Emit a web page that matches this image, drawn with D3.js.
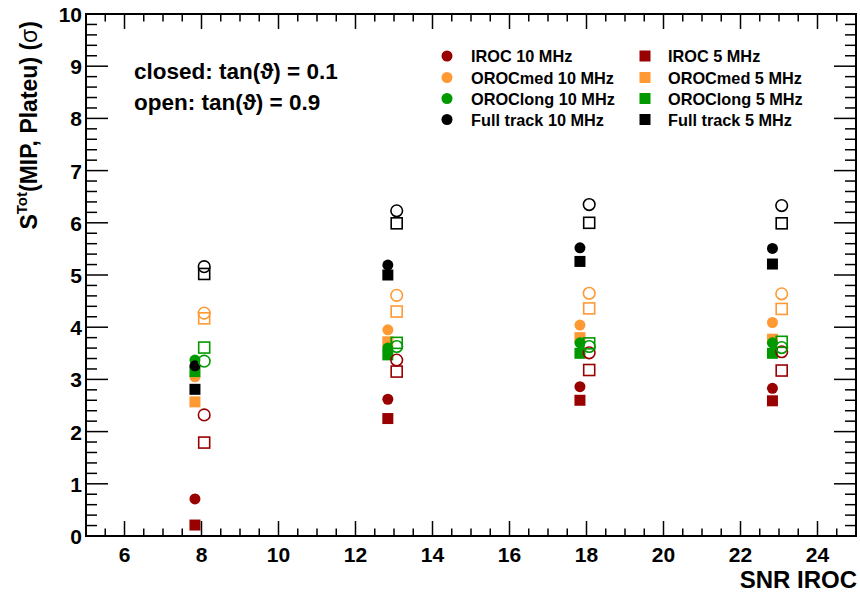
<!DOCTYPE html>
<html><head><meta charset="utf-8">
<script src="https://cdn.jsdelivr.net/npm/d3@7"></script>
<style>
body{margin:0;background:#fff;}
text{font-family:"Liberation Sans",Arial,Helvetica,sans-serif;font-weight:bold;}
</style></head>
<body><svg id="c" width="860" height="597"></svg>
<script>
// ---- data ----
const snrClosed = [7.83, 12.84, 17.83, 22.83];
const snrOpen   = [8.07, 13.07, 18.07, 23.07];

// closed: tan(theta)=0.1
const iroc10C     = [0.71, 2.62, 2.86, 2.83];
const iroc5C      = [0.21, 2.25, 2.60, 2.59];
const orocMed10C  = [3.05, 3.95, 4.04, 4.09];
const orocMed5C   = [2.57, 3.72, 3.80, 3.77];
const orocLong10C = [3.37, 3.60, 3.70, 3.70];
const orocLong5C  = [3.15, 3.47, 3.50, 3.50];
const full10C     = [3.26, 5.19, 5.52, 5.51];
const full5C      = [2.81, 5.00, 5.26, 5.21];

// open: tan(theta)=0.9
const iroc10O     = [2.32, 3.37, 3.51, 3.53];
const iroc5O      = [1.79, 3.15, 3.18, 3.17];
const orocMed10O  = [4.27, 4.61, 4.65, 4.64];
const orocMed5O   = [4.17, 4.30, 4.36, 4.35];
const orocLong10O = [3.35, 3.63, 3.63, 3.61];
const orocLong5O  = [3.61, 3.70, 3.69, 3.72];
const full10O     = [5.16, 6.23, 6.35, 6.33];
const full5O      = [5.02, 5.99, 6.00, 5.99];

const legendLabels10 = ["IROC 10 MHz", "OROCmed 10 MHz", "OROClong 10 MHz", "Full track 10 MHz"];
const legendLabels5  = ["IROC 5 MHz", "OROCmed 5 MHz", "OROClong 5 MHz", "Full track 5 MHz"];
const xTickLabels = [6, 8, 10, 12, 14, 16, 18, 20, 22, 24];
const yTickLabels = [0, 1, 2, 3, 4, 5, 6, 7, 8, 9, 10];

const colors = ["#990000", "#ff9933", "#009900", "#000000"];

// ---- layout ----
const W = 860, H = 597;
const m = {l: 86, r: 4, t: 14, b: 61};
const svg = d3.select("#c");
const x = d3.scaleLinear().domain([5, 25]).range([m.l, W - m.r]);
const y = d3.scaleLinear().domain([0, 10]).range([H - m.b, m.t]);

// frame
svg.append("rect").attr("x", m.l).attr("y", m.t)
  .attr("width", W - m.r - m.l).attr("height", H - m.b - m.t)
  .attr("fill", "none").attr("stroke", "#000").attr("stroke-width", 2);

// ticks
const xMinor = d3.range(5.5, 25, 0.5).filter(v => Math.abs(v/2 - Math.round(v/2)) > 1e-6);
const yMinor = d3.range(0.2, 10, 0.2).filter(v => Math.abs(v - Math.round(v)) > 1e-6);
const tickG = svg.append("g").attr("stroke", "#000").attr("stroke-width", 1.5);
function xt(vals, len){
  vals.forEach(v => {
    tickG.append("line").attr("x1", x(v)).attr("x2", x(v)).attr("y1", y(0)).attr("y2", y(0) - len);
    tickG.append("line").attr("x1", x(v)).attr("x2", x(v)).attr("y1", y(10)).attr("y2", y(10) + len);
  });
}
function yt(vals, len){
  vals.forEach(v => {
    tickG.append("line").attr("y1", y(v)).attr("y2", y(v)).attr("x1", x(5)).attr("x2", x(5) + len);
    tickG.append("line").attr("y1", y(v)).attr("y2", y(v)).attr("x1", x(25)).attr("x2", x(25) - len);
  });
}
xt(xTickLabels, 15); xt(xMinor, 7.5);
yt(yTickLabels.slice(1, -1), 22); yt(yMinor, 11);

// tick labels
svg.append("g").selectAll("text").data(xTickLabels).join("text")
  .attr("x", d => x(d)).attr("y", y(0) + 26).attr("text-anchor", "middle")
  .attr("font-size", 21).text(d => d);
svg.append("g").selectAll("text").data(yTickLabels).join("text")
  .attr("x", m.l - 4).attr("y", d => y(d) + 8).attr("text-anchor", "end")
  .attr("font-size", 21).text(d => d);

// axis titles
svg.append("text").attr("x", W - 3).attr("y", 588).attr("text-anchor", "end")
  .attr("font-size", 24).text("SNR IROC");
const yt_ = svg.append("text").attr("transform", "translate(37,21) rotate(-90)")
  .attr("text-anchor", "end").attr("font-size", 23);
yt_.append("tspan").text("S");
yt_.append("tspan").attr("font-size", 15).attr("dy", -10).text("Tot");
yt_.append("tspan").attr("dy", 10).text("(MIP, Plateu) (");
yt_.append("tspan").attr("font-weight", "normal").text("σ");
yt_.append("tspan").text(")");

// annotations
svg.append("text").attr("x", 134).attr("y", 79).attr("font-size", 22.5).text("closed: tan(ϑ) = 0.1");
svg.append("text").attr("x", 134).attr("y", 110).attr("font-size", 22.5).text("open: tan(ϑ) = 0.9");

// markers
const R = 5.5, S = 11, Ro = 5.8, So = 11;
const plot = svg.append("g");
function circles(xs, ys, col, open){
  plot.append("g").selectAll("circle").data(ys).join("circle")
    .attr("cx", (d, i) => x(xs[i])).attr("cy", d => y(d)).attr("r", open ? Ro : R)
    .attr("fill", open ? "none" : col).attr("stroke", open ? col : "none").attr("stroke-width", 1.6);
}
function squares(xs, ys, col, open){
  const s = open ? So : S;
  plot.append("g").selectAll("rect").data(ys).join("rect")
    .attr("x", (d, i) => x(xs[i]) - s/2).attr("y", d => y(d) - s/2).attr("width", s).attr("height", s)
    .attr("fill", open ? "none" : col).attr("stroke", open ? col : "none").attr("stroke-width", 1.6);
}
const closed10 = [iroc10C, orocMed10C, orocLong10C, full10C];
const closed5  = [iroc5C, orocMed5C, orocLong5C, full5C];
const open10 = [iroc10O, orocMed10O, orocLong10O, full10O];
const open5  = [iroc5O, orocMed5O, orocLong5O, full5O];
for (let k = 0; k < 4; k++){
  circles(snrClosed, closed10[k], colors[k], false);
  squares(snrClosed, closed5[k], colors[k], false);
}
for (let k = 0; k < 4; k++){
  circles(snrOpen, open10[k], colors[k], true);
  squares(snrOpen, open5[k], colors[k], true);
}

// legend
const legRows = [56, 77.5, 98.5, 119.5];
const leg = svg.append("g");
legendLabels10.forEach((t, i) => {
  leg.append("circle").attr("cx", 447).attr("cy", legRows[i]).attr("r", R).attr("fill", colors[i]);
  leg.append("text").attr("x", 471).attr("y", legRows[i] + 6).attr("font-size", 16.3).text(t);
});
legendLabels5.forEach((t, i) => {
  leg.append("rect").attr("x", 645 - S/2).attr("y", legRows[i] - S/2).attr("width", S).attr("height", S).attr("fill", colors[i]);
  leg.append("text").attr("x", 668).attr("y", legRows[i] + 6).attr("font-size", 16.3).text(t);
});
</script></body></html>
